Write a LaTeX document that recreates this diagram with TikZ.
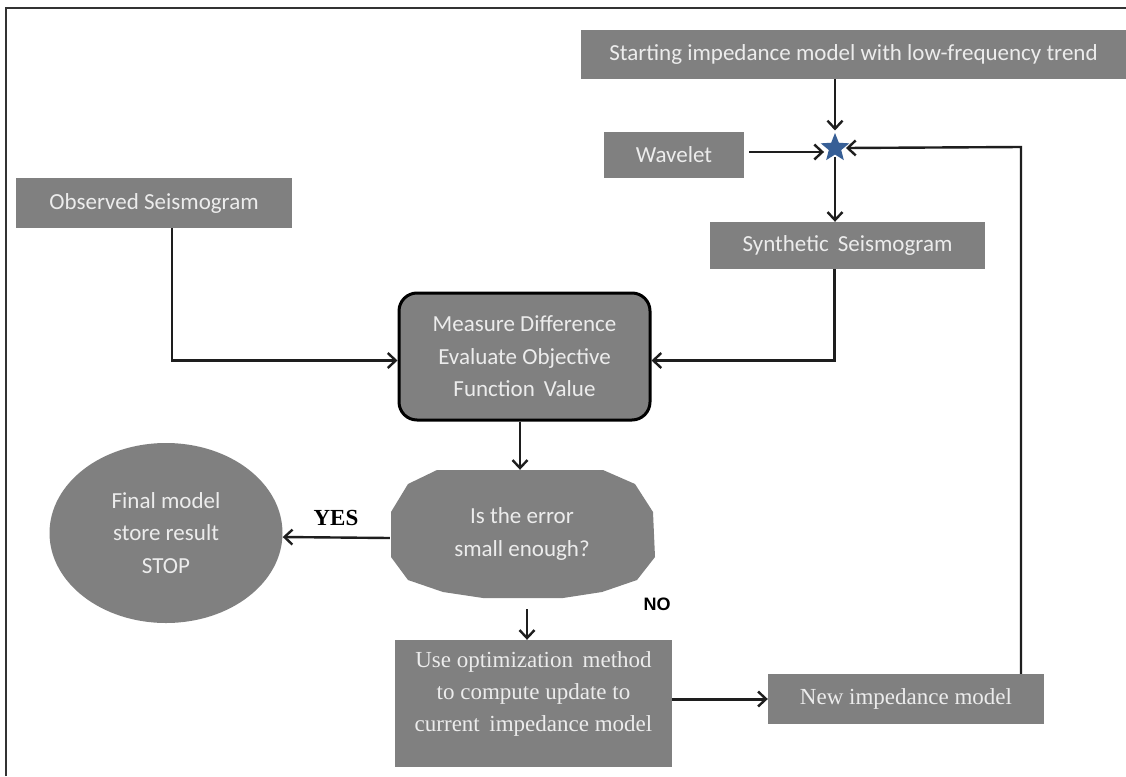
\documentclass[tikz,border=0pt]{standalone}
\usepackage{fontspec}
\setmainfont{Liberation Serif}
\newfontfamily\calfont{Carlito}
\newfontfamily\arialfont{Liberation Sans}
\usetikzlibrary{arrows.meta,shapes.geometric,calc}
\definecolor{boxgray}{RGB}{128,128,128}
\definecolor{txtgray}{RGB}{236,236,236}
\definecolor{linecol}{RGB}{30,30,30}
\definecolor{starblue}{RGB}{55,95,150}
\tikzset{
  greybox/.style={fill=boxgray, text=txtgray, inner sep=0pt, align=center, font=\calfont\fontsize{23}{32.5}\selectfont},
  serifbox/.style={fill=boxgray, text=txtgray, inner sep=0pt, align=center, font=\rmfamily\fontsize{23}{32}\selectfont},
  conn/.style={draw=linecol, line width=2.4pt, -{Straight Barb[length=8pt,width=15pt,line width=2.4pt]}},
}
\begin{document}
\begin{tikzpicture}[x=1pt,y=-1pt]
\useasboundingbox (0,0) rectangle (1126,776);
\fill[white] (0,0) rectangle (1126,776);
% frame
\draw[line width=2.5pt, draw=black!80] (6,776) -- (6,8) -- (1126,8);

% nodes
\node[greybox, minimum width=545pt, minimum height=49pt] (start) at (853.5,54.5) {Starting impedance model with low-frequency trend};
\node[greybox, minimum width=140pt, minimum height=46pt] (wave) at (674,155) {Wavelet};
\node[star, star points=5, star point ratio=2.3, fill=starblue, inner sep=0pt, minimum size=30pt] (star) at (835,148) {};
\node[greybox, minimum width=275pt, minimum height=47pt] (synth) at (847.5,245.5) {Synthetic\, Seismogram};
\node[greybox, minimum width=276pt, minimum height=50pt] (obs) at (154,203) {Observed Seismogram};
\node[greybox, draw=black, line width=3pt, rounded corners=18pt, minimum width=251pt, minimum height=127pt] (meas) at (524.5,356.5) {Measure Difference\\Evaluate Objective\\Function\, Value};

% decision polygon
\fill[boxgray] (437,470) -- (603,470) -- (635,484) -- (653,512) -- (655,557) -- (637,580) -- (602,592) -- (563,598) -- (483,598) -- (443,592) -- (408,580) -- (391,557) -- (391,512) -- (408,484) -- cycle;
\node[ellipse, inner sep=0pt, minimum width=264pt, minimum height=128pt, text=txtgray, align=center, font=\calfont\fontsize{23}{32.5}\selectfont] (dec) at (522,534) {Is the error\\small enough?};

\node[ellipse, fill=boxgray, text=txtgray, inner sep=0pt, minimum width=233pt, minimum height=180pt, align=center, font=\calfont\fontsize{23}{32.5}\selectfont] (final) at (166,533) {Final model\\store result\\STOP};

\node[fill=boxgray, inner sep=0pt, minimum width=277pt, minimum height=127pt] (opt) at (533.5,703.5) {};
\node[text=txtgray, align=center, font=\rmfamily\fontsize{23}{32}\selectfont, inner sep=0pt] (opttext) at (533.5,694) {Use optimization\, method\\to compute update to\\current\, impedance model};

\node[serifbox, minimum width=276pt, minimum height=50pt] (newimp) at (906,699) {New impedance model};

\node[font=\rmfamily\bfseries\fontsize{23}{24}\selectfont, inner sep=0pt] (yes) at (336,518) {YES};
\node[font=\arialfont\bfseries\fontsize{18}{20}\selectfont, inner sep=0pt] (no) at (657,604) {NO};

\coordinate (nostart) at (527,609);
\coordinate (wv) at (749,152);
\coordinate (fbcorner) at (1021,147);

% connectors
\draw[conn] (star |- start.south) -- ([yshift=2pt]star.north);
\draw[conn] (wv) -- ([xshift=-2pt]wv -| star.west);
\draw[conn] ([xshift=115pt]newimp.north) -- (fbcorner) -- ([xshift=2pt]star.east);
\draw[conn] ([yshift=-2pt]star.south) -- (star |- synth.north);
\draw[conn] ([xshift=-13pt]synth.south) |- ([yshift=-4pt]meas.east);
\draw[conn] ([xshift=18pt]obs.south) |- ([yshift=-4pt]meas.west);
\draw[conn] ([xshift=-4.5pt]meas.south) -- ([xshift=-2pt]dec.north);
\draw[conn] ([yshift=-4pt]dec.west) -- ([yshift=-4pt]final.east);
\draw[conn] (nostart) -- (nostart |- opt.north);
\draw[conn, line width=3pt] (opt.east |- newimp.west) -- (newimp.west);
\end{tikzpicture}
\end{document}
